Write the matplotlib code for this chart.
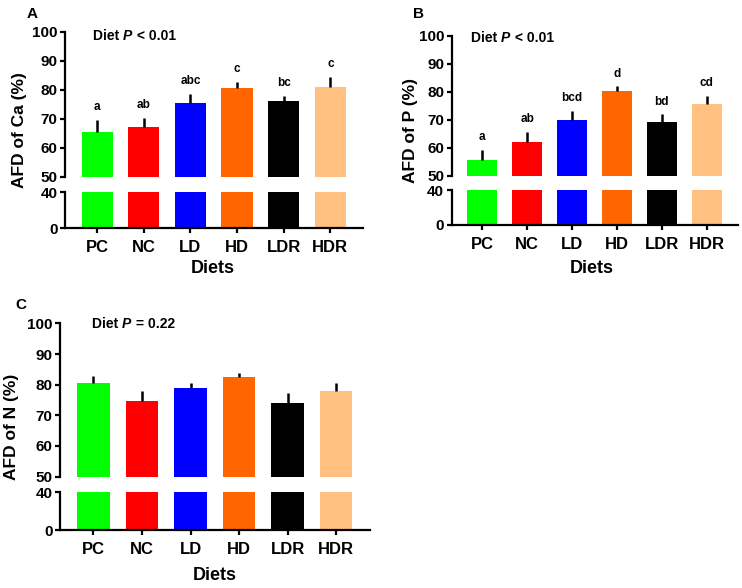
import matplotlib
matplotlib.use("Agg")
import matplotlib.pyplot as plt
import numpy as np

plt.rcParams["font.family"] = ["Liberation Sans", "DejaVu Sans"]
plt.rcParams["font.weight"] = "bold"
plt.rcParams["axes.labelweight"] = "bold"

# ---------------------------
# DATA
# ---------------------------
diets = ["PC", "NC", "LD", "HD", "LDR", "HDR"]
bar_colors = ["#00FF00", "#FF0000", "#0000FF", "#FF6600", "#000000", "#FFC080"]

ca_mean = [65.4, 67.1, 75.6, 80.7, 76.0, 80.9]
ca_sem = [4.1, 3.1, 2.9, 1.9, 1.7, 3.4]
ca_letters = ["a", "ab", "abc", "c", "bc", "c"]

p_mean = [55.7, 61.9, 69.8, 80.1, 69.2, 75.7]
p_sem = [3.5, 3.6, 3.4, 1.7, 2.6, 2.8]
p_letters = ["a", "ab", "bcd", "d", "bd", "cd"]

n_mean = [80.5, 74.6, 78.8, 82.4, 74.1, 77.9]
n_sem = [2.3, 3.5, 1.6, 1.4, 3.2, 2.8]
n_letters = ["", "", "", "", "", ""]

W, H = 742, 588
fig = plt.figure(figsize=(W / 100, H / 100), dpi=100)


def px_axes(left, right, top, bottom):
    # pixel box -> figure fraction axes
    return fig.add_axes([left / W, 1 - bottom / H, (right - left) / W, (bottom - top) / H])


def style(ax):
    for s in ["top", "right"]:
        ax.spines[s].set_visible(False)
    for s in ["left", "bottom"]:
        ax.spines[s].set_linewidth(1.6)
    ax.tick_params(width=1.6, length=3.8, labelsize=11, pad=1.5)


def panel(tag, mean, sem, letters, ylabel, ptext, box, tag_xy, ylab_x, diets_xy, ptext_xy):
    left, right, top, mid_top, mid_bot, bottom = box
    x = np.arange(len(diets))
    lo = np.zeros(len(diets))

    ax_top = px_axes(left, right, top, mid_top)
    ax_bot = px_axes(left, right, mid_bot, bottom)

    for ax in (ax_top, ax_bot):
        ax.bar(x, mean, width=0.67, color=bar_colors, edgecolor="none")
        style(ax)
        ax.set_xlim(-0.69, 5.7)

    ax_top.errorbar(x, mean, yerr=[lo, sem], fmt="none", ecolor="black",
                    elinewidth=1.8, capsize=0)
    ax_top.set_ylim(50, 100)
    ax_top.set_yticks([50, 60, 70, 80, 90, 100])
    ax_top.spines["bottom"].set_visible(False)
    ax_top.tick_params(axis="x", bottom=False, labelbottom=False)

    for xi, m, s, lab in zip(x, mean, sem, letters):
        if lab:
            ax_top.annotate(lab, xy=(xi, m + s), xytext=(0, 5), textcoords="offset points",
                            ha="center", va="bottom", fontsize=8.5, fontweight="bold")

    ax_bot.set_ylim(0, 40)
    ax_bot.set_yticks([0, 40])
    ax_bot.set_xticks(x)
    ax_bot.set_xticklabels(diets, fontsize=12)
    ax_bot.tick_params(axis="x", pad=5)

    fig.text(tag_xy[0] / W, 1 - tag_xy[1] / H, tag, fontsize=11, fontweight="bold",
             ha="center", va="center")
    fig.text(ylab_x / W, 1 - (top + bottom) / 2 / H, ylabel, rotation=90, fontsize=12.5,
             fontweight="bold", ha="center", va="center")
    fig.text(diets_xy[0] / W, 1 - diets_xy[1] / H, "Diets", fontsize=13,
             fontweight="bold", ha="center", va="center")

    # "Diet P < 0.01" with italic P
    t1 = fig.text(ptext_xy[0] / W, 1 - ptext_xy[1] / H, "Diet ", fontsize=10,
                  fontweight="bold", ha="left", va="center")
    t2 = fig.text(0, 0, "P", fontsize=10, fontweight="bold", style="italic",
                  ha="left", va="bottom", transform=None)
    t3 = fig.text(0, 0, ptext, fontsize=10, fontweight="bold", ha="left", va="bottom",
                  transform=None)
    fig.canvas.draw()
    r = fig.canvas.get_renderer()
    b1 = t1.get_window_extent(r)
    t2.set_position((b1.x1, b1.y0))
    b2 = t2.get_window_extent(r)
    t3.set_position((b2.x1 + 1, b1.y0))


panel("A", ca_mean, ca_sem, ca_letters, "AFD of Ca (%)", " < 0.01",
      (65, 363, 31.5, 177, 192, 228), (32, 14), 20, (213, 268), (93, 36))
panel("B", p_mean, p_sem, p_letters, "AFD of P (%)", " < 0.01",
      (451.5, 738, 35.5, 175.5, 190, 225), (418, 14), 410, (592, 268), (471, 38))
panel("C", n_mean, n_sem, n_letters, "AFD of N (%)", " = 0.22",
      (60, 370, 323.5, 476.5, 492, 530), (21, 305), 12, (215, 576), (92, 324))

plt.savefig("out.png", dpi=100)
